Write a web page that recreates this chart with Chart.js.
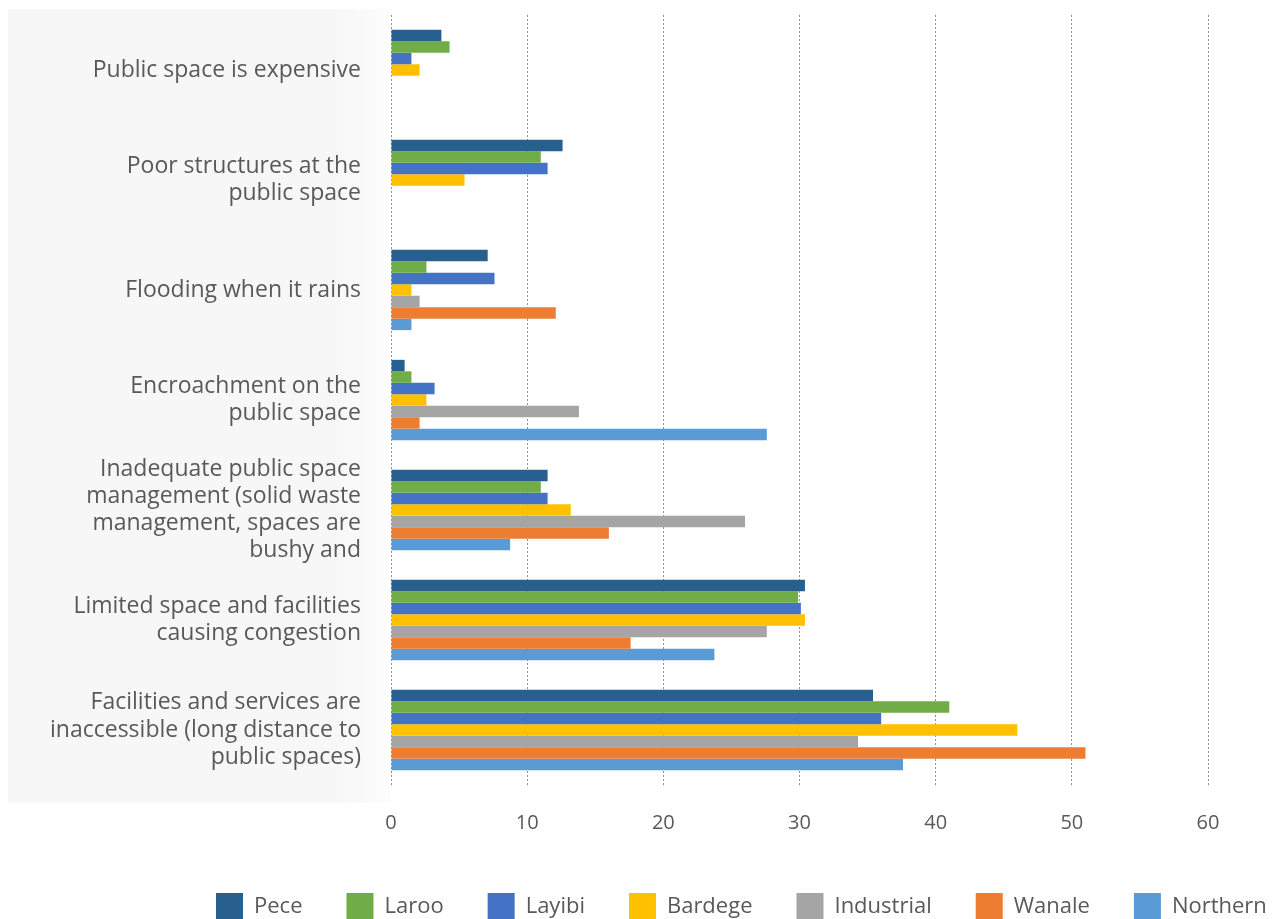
<!DOCTYPE html>
<html>
<head>
<meta charset="utf-8">
<script src="https://cdn.jsdelivr.net/npm/chart.js@4"></script>
<style>
  html, body { margin: 0; padding: 0; background: #fff; overflow: hidden; }
  #wrap { position: relative; width: 1283px; height: 930px; }
</style>
</head>
<body>
<div id="wrap"><canvas id="chart"></canvas></div>
<script>
// Problems reported, by area (percent)
const categories = [
  'Public space is expensive',
  ['Poor structures at the', 'public space'],
  'Flooding when it rains',
  ['Encroachment on the', 'public space'],
  ['Inadequate public space', 'management (solid waste', 'management, spaces are', 'bushy and'],
  ['Limited space and facilities', 'causing congestion'],
  ['Facilities and services are', 'inaccessible (long distance to', 'public spaces)']
];

const pece = [3.7, 12.6, 7.1, 1.0, 11.5, 30.4, 35.4];
const laroo = [4.3, 11.0, 2.6, 1.5, 11.0, 29.9, 41.0];
const layibi = [1.5, 11.5, 7.6, 3.2, 11.5, 30.1, 36.0];
const bardege = [2.1, 5.4, 1.5, 2.6, 13.2, 30.4, 46.0];
const industrial = [0, 0, 2.1, 13.8, 26.0, 27.6, 34.3];
const wanale = [0, 0, 12.1, 2.1, 16.0, 17.6, 51.0];
const northern = [0, 0, 1.5, 27.6, 8.75, 23.75, 37.6];

const xTicks = [0, 10, 20, 30, 40, 50, 60];

const textColor = '#595959';
const fontFamily = '"Open Sans", "Liberation Sans", sans-serif';

// light grey panel behind the category labels
const labelPanel = {
  id: 'labelPanel',
  beforeDraw(chart) {
    const ctx = chart.ctx;
    const top = 9, bottom = 803, left = 8, right = chart.chartArea.left;
    const grad = ctx.createLinearGradient(left, 0, right, 0);
    grad.addColorStop(0, '#f7f7f7');
    grad.addColorStop(0.85, '#f7f7f7');
    grad.addColorStop(1, '#fdfdfd');
    ctx.save();
    ctx.fillStyle = grad;
    ctx.fillRect(left, top, right - left, bottom - top);
    ctx.restore();
  }
};

// move the legend row so it starts where the original one does
const shiftLegend = {
  id: 'shiftLegend',
  afterLayout(chart) {
    chart.legend.left = 172;
    chart.legend.right = 1340;
  }
};

function series(label, data, color) {
  return {
    label: label,
    data: data,
    backgroundColor: color,
    borderWidth: 0,
    categoryPercentage: 0.73,
    barPercentage: 1.0
  };
}

new Chart(document.getElementById('chart'), {
  type: 'bar',
  data: {
    labels: categories,
    datasets: [
      series('Pece', pece, '#27608e'),
      series('Laroo', laroo, '#70ad47'),
      series('Layibi', layibi, '#4472c4'),
      series('Bardege', bardege, '#ffc000'),
      series('Industrial', industrial, '#a5a5a5'),
      series('Wanale', wanale, '#ed7d31'),
      series('Northern', northern, '#5b9bd5')
    ]
  },
  options: {
    indexAxis: 'y',
    responsive: true,
    maintainAspectRatio: false,
    animation: false,
    layout: { padding: { top: 15, left: 0, right: 0, bottom: 0 } },
    plugins: {
      tooltip: { enabled: false },
      legend: {
        position: 'bottom',
        align: 'start',
        labels: {
          boxWidth: 27,
          boxHeight: 27,
          padding: 44,
          color: textColor,
          font: { family: fontFamily, size: 22 }
        }
      }
    },
    scales: {
      x: {
        min: 0,
        max: 60,
        afterBuildTicks(scale) {
          scale.ticks = xTicks.map(v => ({ value: v }));
        },
        afterFit(scale) {
          scale.height = 64;
          scale.paddingRight = 75;
        },
        grid: {
          color: '#8f8f8f',
          lineWidth: 1,
          drawTicks: false
        },
        border: { display: false, dash: [2, 2] },
        ticks: {
          padding: 26,
          color: textColor,
          font: { family: fontFamily, size: 20 }
        }
      },
      y: {
        afterFit(scale) {
          scale.width = 391;
          scale.paddingTop = 0;
          scale.paddingBottom = 0;
        },
        grid: { display: false, drawTicks: false },
        border: { display: false },
        ticks: {
          autoSkip: false,
          padding: 30,
          color: textColor,
          font: { family: fontFamily, size: 23, lineHeight: 1.18 }
        }
      }
    }
  },
  plugins: [labelPanel, shiftLegend]
});
</script>
</body>
</html>
